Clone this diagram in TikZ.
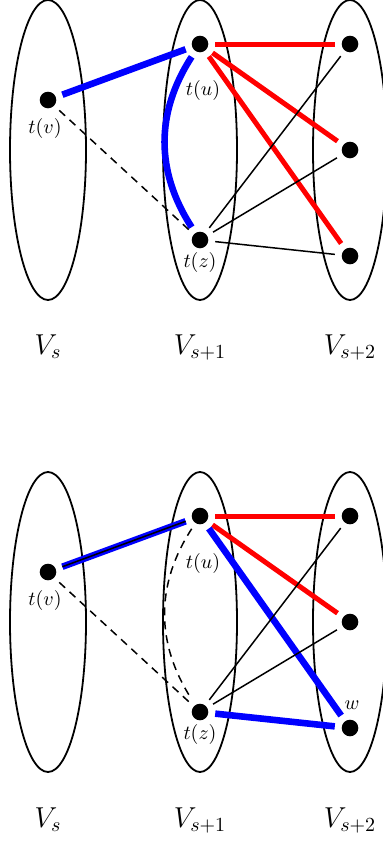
\documentclass[tikz,border=0pt]{standalone}
\begin{document}
\begin{tikzpicture}[x=0.5pt,y=-0.5pt,
  vtx/.style={circle,fill=black,inner sep=0pt,minimum size=8.3pt,outer sep=3.5pt},
  part/.style={draw,line width=0.9pt},
  blueedge/.style={draw=blue,line width=3.3pt},
  rededge/.style={draw=red,line width=2.5pt},
  thinedge/.style={draw=black,line width=0.75pt},
  dashedge/.style={draw=black,line width=0.75pt,dash pattern=on 4pt off 3pt},
  lab/.style={inner sep=0pt},
  setlab/.style={font=\Large,inner sep=0pt,anchor=base}]
\useasboundingbox (0,0) rectangle (383,841);
% ---------- top half ----------
\draw[part] (48,150) ellipse [x radius=38, y radius=150];
\draw[part] (200,150) ellipse [x radius=37, y radius=150];
\draw[part] (350,150) ellipse [x radius=37, y radius=150];
\node[vtx] (v1) at (48,100) {};
\node[vtx] (u1) at (200,44) {};
\node[vtx] (z1) at (200,240) {};
\node[vtx] (a1) at (350,44) {};
\node[vtx] (b1) at (350,150) {};
\node[vtx] (c1) at (350,256) {};
\node[lab] (lv1) at (45,128) {$t(v)$};
\node[lab] (lu1) at (203,90) {$t(u)$};
\node[lab] (lz1) at (200,262) {$t(z)$};
\node[setlab] (S1) at (48,354) {$V_s$};
\node[setlab] (T1) at (200,354) {$V_{s+1}$};
\node[setlab] (R1) at (350,354) {$V_{s+2}$};
\draw[blueedge] (v1) -- (u1);
\draw[blueedge] (u1) to[bend right=33] (z1);
\draw[dashedge] (v1) -- (z1);
\draw[rededge] (u1) -- (a1);
\draw[rededge] (u1) -- (b1);
\draw[rededge] (u1) -- (c1);
\draw[thinedge] (z1) -- (a1);
\draw[thinedge] (z1) -- (b1);
\draw[thinedge] (z1) -- (c1);
% ---------- bottom half ----------
\draw[part] (48,622) ellipse [x radius=38, y radius=150];
\draw[part] (200,622) ellipse [x radius=37, y radius=150];
\draw[part] (350,622) ellipse [x radius=37, y radius=150];
\node[vtx] (v2) at (48,572) {};
\node[vtx] (u2) at (200,516) {};
\node[vtx] (z2) at (200,712) {};
\node[vtx] (a2) at (350,516) {};
\node[vtx] (b2) at (350,622) {};
\node[vtx] (c2) at (350,728) {};
\node[lab] (lv2) at (45,600) {$t(v)$};
\node[lab] (lu2) at (203,563) {$t(u)$};
\node[lab] (lz2) at (200,734) {$t(z)$};
\node[lab] (lw2) at (352,705) {$w$};
\node[setlab] (S2) at (48,827) {$V_s$};
\node[setlab] (T2) at (200,827) {$V_{s+1}$};
\node[setlab] (R2) at (350,827) {$V_{s+2}$};
\draw[blueedge] (v2) -- (u2);
\draw[thinedge] (v2) -- (u2);
\draw[dashedge] (u2) to[bend right=33] (z2);
\draw[dashedge] (v2) -- (z2);
\draw[rededge] (u2) -- (a2);
\draw[rededge] (u2) -- (b2);
\draw[blueedge] (u2) -- (c2);
\draw[blueedge] (z2) -- (c2);
\draw[thinedge] (z2) -- (a2);
\draw[thinedge] (z2) -- (b2);
\end{tikzpicture}
\end{document}
